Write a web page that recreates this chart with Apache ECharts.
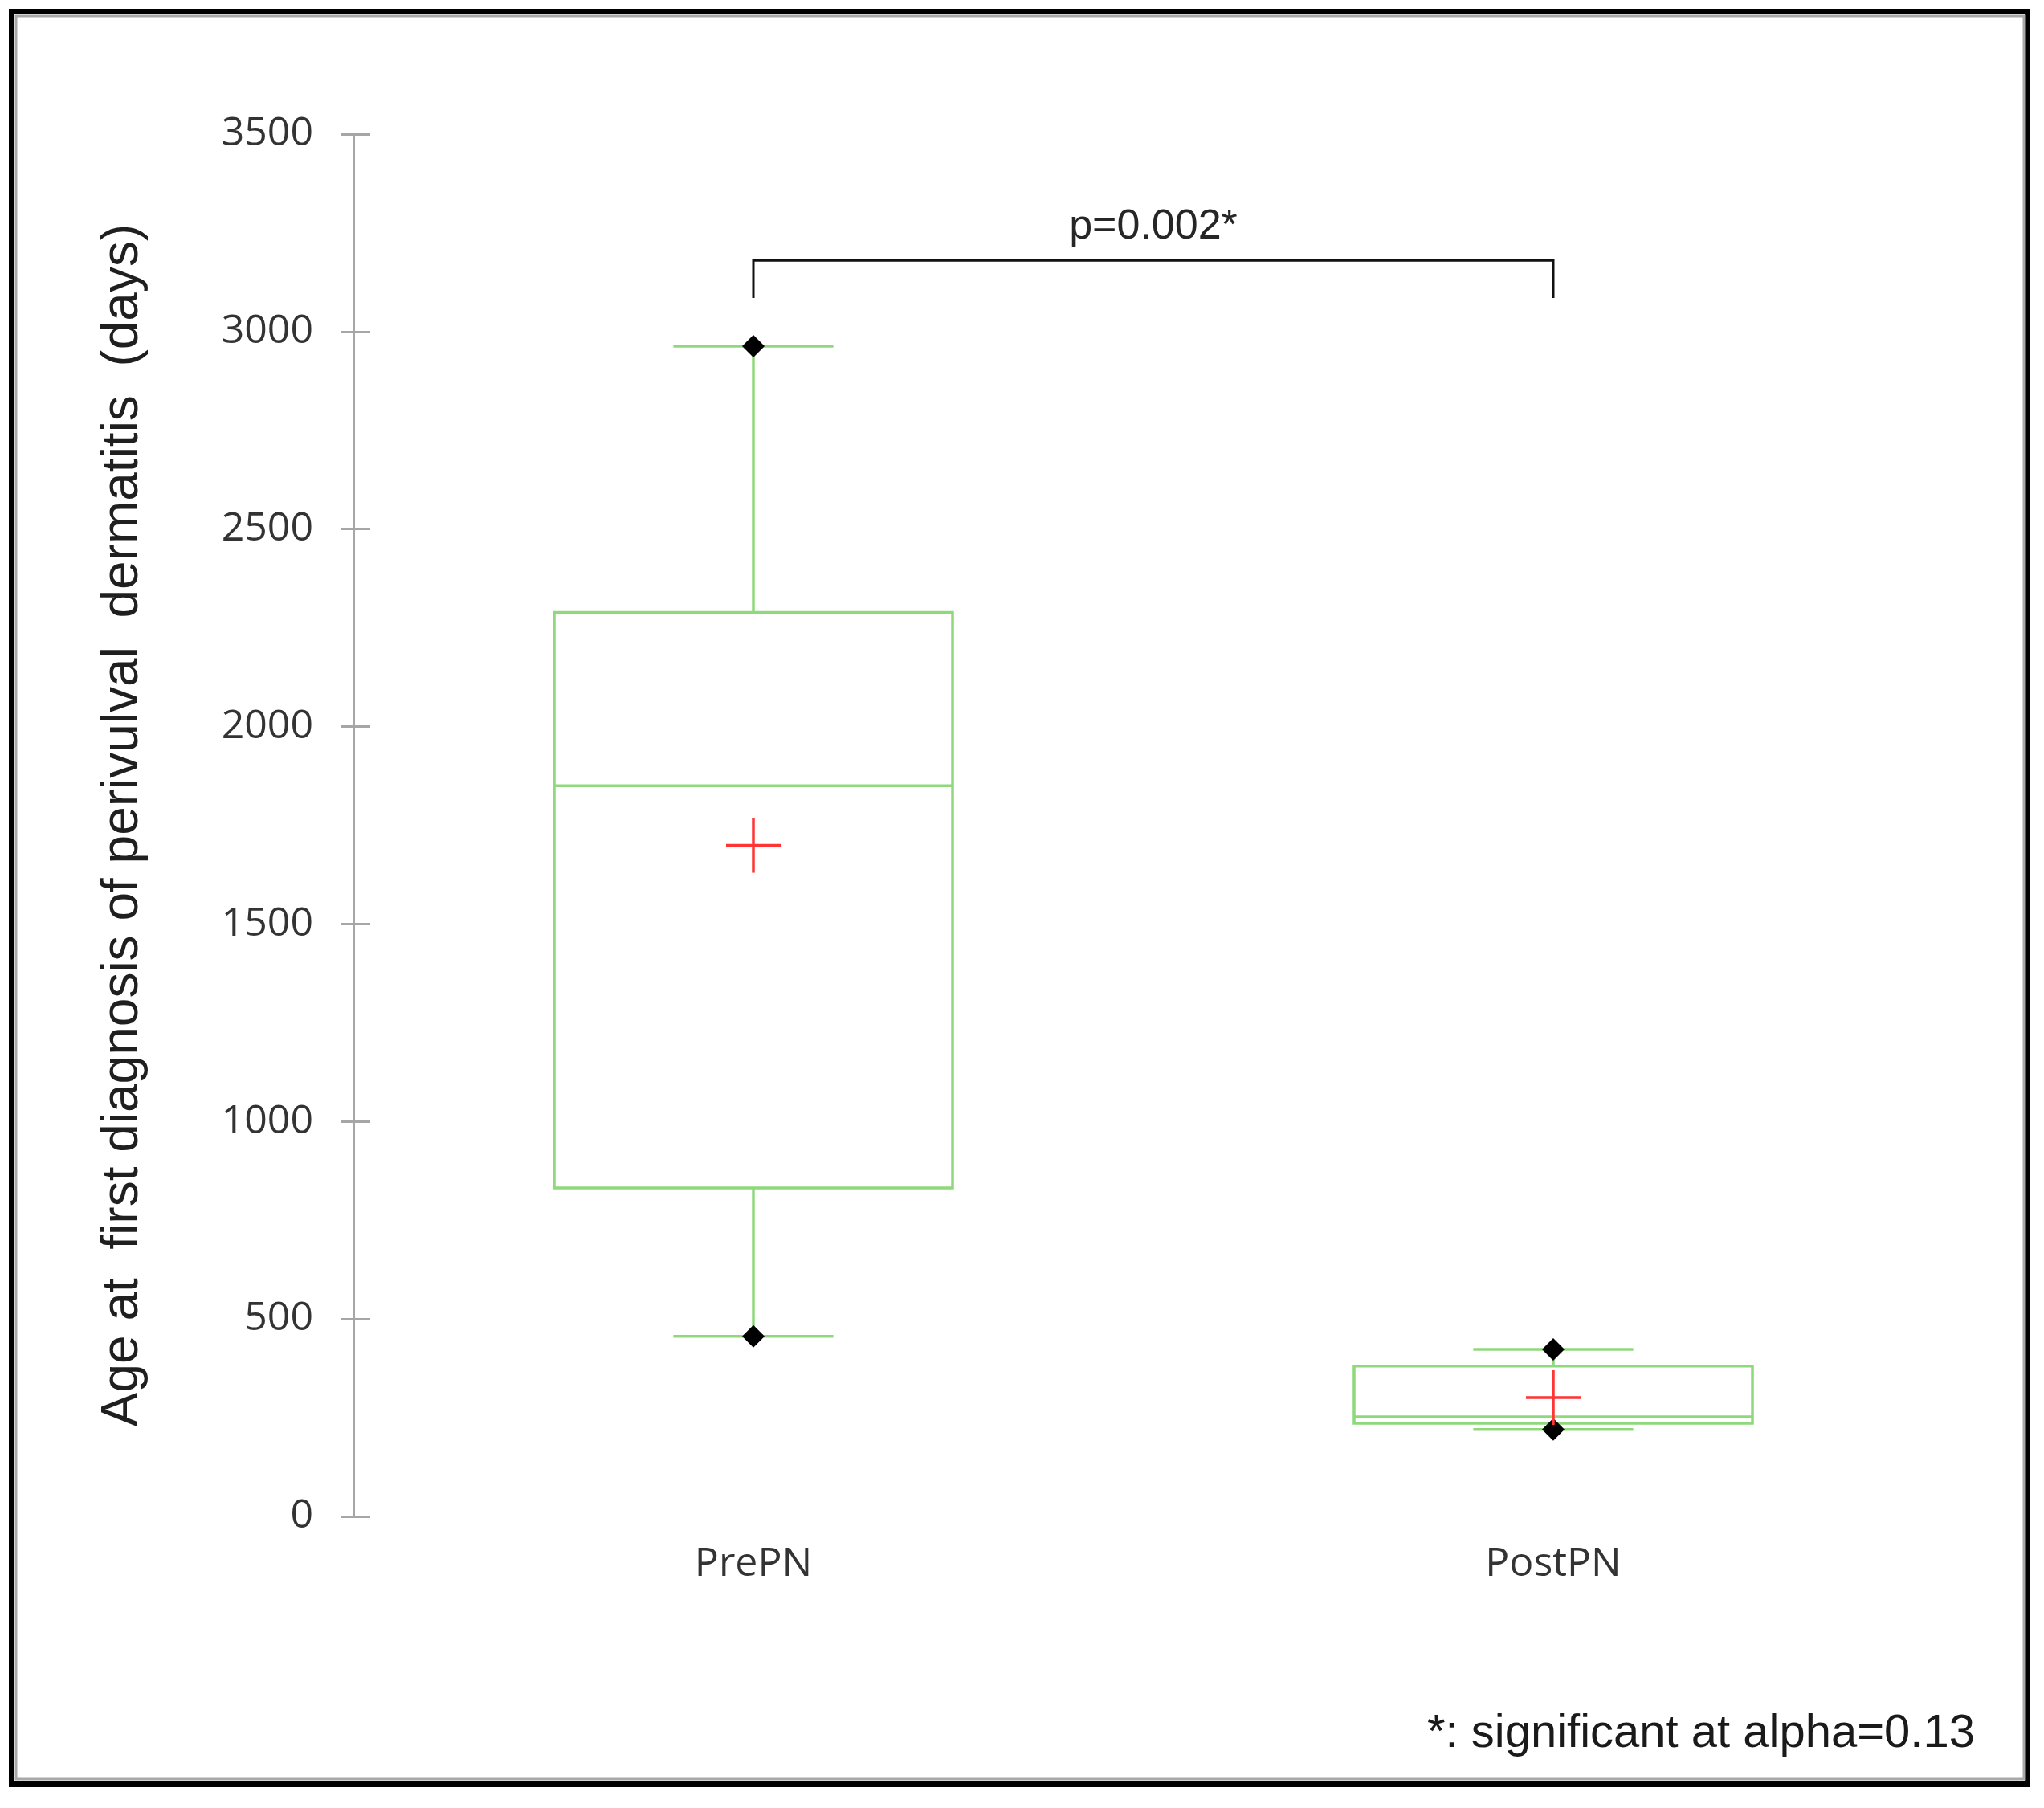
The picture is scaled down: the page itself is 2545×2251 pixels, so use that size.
<!DOCTYPE html>
<html>
<head>
<meta charset="utf-8">
<script src="https://cdn.jsdelivr.net/npm/echarts@6/dist/echarts.min.js"></script>
<style>
  html, body { margin: 0; padding: 0; background: #fff; }
  #chart { width: 2545px; height: 2251px; }
</style>
</head>
<body>
<div id="chart"></div>
<script>
  const categories = ['PrePN', 'PostPN'];
  const minVals = [456, 220];
  const q1Vals = [832, 236];
  const medianVals = [1850, 252];
  const q3Vals = [2289, 381];
  const maxVals = [2963, 423];
  const meanVals = [1699, 301];
  const yTicks = [0, 500, 1000, 1500, 2000, 2500, 3000, 3500];
  const pText = 'p=0.002*';

  const green = '#8fd97c';
  const boxData = categories.map((c, i) => [i, minVals[i], q1Vals[i], medianVals[i], q3Vals[i], maxVals[i], meanVals[i]]);

  const renderBox = (params, api) => {
    const idx = api.value(0);
    const band = api.size([1, 0])[0];
    const cx = api.coord([idx, 0])[0];
    const y = (k) => api.coord([idx, api.value(k)])[1];
    const yMin = y(1), yQ1 = y(2), yMed = y(3), yQ3 = y(4), yMax = y(5), yMean = y(6);
    const hw = band * 0.249;
    const cw = band * 0.1;
    const lineStyle = { stroke: green, lineWidth: 3.5, fill: null };
    const d = 14;
    const cr = 34;
    const diamond = (yy) => ({
      type: 'polygon',
      shape: { points: [[cx, yy - d], [cx + d, yy], [cx, yy + d], [cx - d, yy]] },
      style: { fill: '#000' }
    });
    return {
      type: 'group',
      children: [
        { type: 'line', shape: { x1: cx, y1: yQ3, x2: cx, y2: yMax }, style: lineStyle },
        { type: 'line', shape: { x1: cx, y1: yQ1, x2: cx, y2: yMin }, style: lineStyle },
        { type: 'line', shape: { x1: cx - cw, y1: yMax, x2: cx + cw, y2: yMax }, style: lineStyle },
        { type: 'line', shape: { x1: cx - cw, y1: yMin, x2: cx + cw, y2: yMin }, style: lineStyle },
        { type: 'rect', shape: { x: cx - hw, y: yQ3, width: hw * 2, height: yQ1 - yQ3 }, style: lineStyle },
        { type: 'line', shape: { x1: cx - hw, y1: yMed, x2: cx + hw, y2: yMed }, style: lineStyle },
        diamond(yMax),
        diamond(yMin),
        { type: 'line', shape: { x1: cx - cr, y1: yMean, x2: cx + cr, y2: yMean }, style: { stroke: '#ff3434', lineWidth: 3.5 } },
        { type: 'line', shape: { x1: cx, y1: yMean - cr, x2: cx, y2: yMean + cr }, style: { stroke: '#ff3434', lineWidth: 3.5 } }
      ]
    };
  };

  const renderBracket = (params, api) => {
    const a = api.coord([api.value(0), api.value(2)]);
    const b = api.coord([api.value(1), api.value(2)]);
    const yEnd = api.coord([0, api.value(3)])[1];
    const yText = api.coord([0, api.value(4)])[1];
    return {
      type: 'group',
      children: [
        {
          type: 'polyline',
          shape: { points: [[a[0], yEnd], [a[0], a[1]], [b[0], b[1]], [b[0], yEnd]] },
          style: { stroke: '#111', lineWidth: 3, fill: null }
        },
        {
          type: 'text',
          x: (a[0] + b[0]) / 2,
          y: yText,
          style: {
            text: pText,
            fill: '#262626',
            font: '52px "Liberation Sans", Arial, sans-serif',
            align: 'center',
            verticalAlign: 'middle'
          }
        }
      ]
    };
  };

  const myChart = echarts.init(document.getElementById('chart'));
  const option = {
    backgroundColor: '#fff',
    animation: false,
    grid: { left: 440, right: 113, top: 167, bottom: 363 },
    xAxis: {
      type: 'category',
      data: categories,
      axisLine: { show: false },
      axisTick: { show: false },
      axisLabel: {
        color: '#333',
        fontFamily: 'Open Sans',
        fontSize: 50,
        margin: 35
      }
    },
    yAxis: [
      {
        type: 'value',
        position: 'left',
        min: yTicks[0],
        max: yTicks[yTicks.length - 1],
        interval: 500,
        name: 'Age at  first diagnosis of perivulval  dermatitis  (days)',
        nameLocation: 'middle',
        nameGap: 255,
        nameTextStyle: {
          color: '#1f1f1f',
          fontFamily: '"Liberation Sans", Arial, sans-serif',
          fontSize: 64
        },
        axisLine: { show: true, lineStyle: { color: '#a6a6a6', width: 3 } },
        axisTick: { show: true, length: 16, lineStyle: { color: '#a6a6a6', width: 3 } },
        axisLabel: {
          color: '#333',
          fontFamily: 'Open Sans',
          fontSize: 50,
          margin: 50,
          formatter: (v) => String(v)
        },
        splitLine: { show: false }
      },
      {
        type: 'value',
        position: 'left',
        offset: 0,
        min: yTicks[0],
        max: yTicks[yTicks.length - 1],
        interval: 500,
        axisLine: { show: false },
        axisTick: { show: true, inside: true, length: 21, lineStyle: { color: '#a6a6a6', width: 3 } },
        axisLabel: { show: false },
        splitLine: { show: false }
      }
    ],
    series: [
      {
        type: 'custom',
        name: 'box',
        renderItem: renderBox,
        encode: { x: 0, y: [1, 2, 3, 4, 5, 6] },
        data: boxData,
        z: 3
      },
      {
        type: 'custom',
        name: 'bracket',
        renderItem: renderBracket,
        encode: { x: [0, 1], y: [2, 3, 4] },
        data: [[0, 1, 3180, 3085, 3265]],
        z: 3
      }
    ],
    graphic: [
      {
        type: 'rect',
        shape: { x: 14.5, y: 14.5, width: 2510, height: 2207 },
        style: { fill: null, stroke: '#000', lineWidth: 7 }
      },
      {
        type: 'rect',
        shape: { x: 20, y: 20, width: 2500, height: 2195 },
        style: { fill: null, stroke: '#a8a8a8', lineWidth: 3 }
      },
      {
        type: 'text',
        right: 86,
        top: 2130,
        style: {
          text: '*: significant at alpha=0.13',
          fill: '#1a1a1a',
          font: '58px "Liberation Sans", Arial, sans-serif'
        }
      }
    ]
  };
  myChart.setOption(option);
</script>
</body>
</html>
